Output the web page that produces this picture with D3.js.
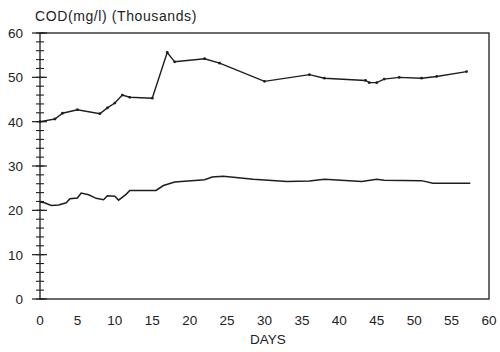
<!DOCTYPE html>
<html><head><meta charset="utf-8">
<script src="https://cdn.jsdelivr.net/npm/d3@7"></script>
<style>body{margin:0;background:#fff}svg{display:block}text{font-family:"Liberation Sans",Arial,sans-serif;fill:#222}</style>
</head><body><svg id="c" width="500" height="352"></svg>
<script>
const upperDays = [0,2,3,5,8,9,10,11,12,15,17,18,22,24,30,36,38,43.5,44,45,46,48,51,53,57];
const upperVals = [40,40.6,41.9,42.7,41.8,43.1,44.2,46,45.5,45.3,55.6,53.5,54.2,53.2,49.1,50.6,49.8,49.3,48.8,48.8,49.6,50,49.8,50.2,51.3];
const lowerDays = [0,0.6,1.5,2.5,3.5,4,5,5.5,6.5,7.5,8.5,9,10,10.5,11.5,12,15.5,16.5,18,22,23,24.5,28.5,33,36,38,43,45,46,51,52.5,57.5];
const lowerVals = [21.9,21.7,21.1,21.2,21.7,22.6,22.8,23.9,23.5,22.7,22.4,23.3,23.2,22.3,23.6,24.5,24.5,25.6,26.4,26.9,27.5,27.7,27.0,26.5,26.6,27,26.5,27,26.8,26.7,26.1,26.1];
const xTicks = [0,5,10,15,20,25,30,35,40,45,50,55,60];
const yTicks = [0,10,20,30,40,50,60];
const yMinor = d3.range(0,61,2);
const title = "COD(mg/l) (Thousands)";
const xTitle = "DAYS";

const svg = d3.select("#c");
const x = d3.scaleLinear().domain([0,60]).range([40,489]);
const y = d3.scaleLinear().domain([0,60]).range([299,33]);
const ink = "#1e1e1e";

svg.append("rect").attr("x",x(0)).attr("y",y(60)).attr("width",x(60)-x(0)).attr("height",y(0)-y(60))
  .attr("fill","none").attr("stroke",ink).attr("stroke-width",1.3);

svg.append("g").selectAll("line").data(yMinor).join("line")
  .attr("x1",x(0)-4).attr("x2",x(0)+4).attr("y1",d=>y(d)).attr("y2",d=>y(d))
  .attr("stroke",ink).attr("stroke-width",1.1);
svg.append("g").selectAll("line").data(yTicks).join("line")
  .attr("x1",x(0)-8).attr("x2",x(0)+7).attr("y1",d=>y(d)).attr("y2",d=>y(d))
  .attr("stroke",ink).attr("stroke-width",1.2);
svg.append("g").selectAll("text").data(yTicks).join("text")
  .attr("x",23).attr("y",d=>y(d)+5).attr("text-anchor","end").attr("font-size",13.5).text(d=>d);

svg.append("g").selectAll("text").data(xTicks).join("text")
  .attr("x",d=>x(d)).attr("y",325).attr("text-anchor","middle").attr("font-size",13.5).text(d=>d);

svg.append("text").attr("x",35).attr("y",21).attr("font-size",14).attr("letter-spacing",0.6).text(title);
svg.append("text").attr("x",268).attr("y",344).attr("text-anchor","middle").attr("font-size",13.5).text(xTitle);

const line = d3.line().x(d=>x(d[0])).y(d=>y(d[1]));
svg.append("path").datum(upperDays.map((d,i)=>[d,upperVals[i]])).attr("d",line)
  .attr("fill","none").attr("stroke",ink).attr("stroke-width",1.4);
svg.append("path").datum(lowerDays.map((d,i)=>[d,lowerVals[i]])).attr("d",line)
  .attr("fill","none").attr("stroke",ink).attr("stroke-width",1.5);
svg.append("g").selectAll("circle").data(upperDays.map((d,i)=>[d,upperVals[i]])).join("circle")
  .attr("cx",d=>x(d[0])).attr("cy",d=>y(d[1])).attr("r",1.4).attr("fill",ink);
</script></body></html>
